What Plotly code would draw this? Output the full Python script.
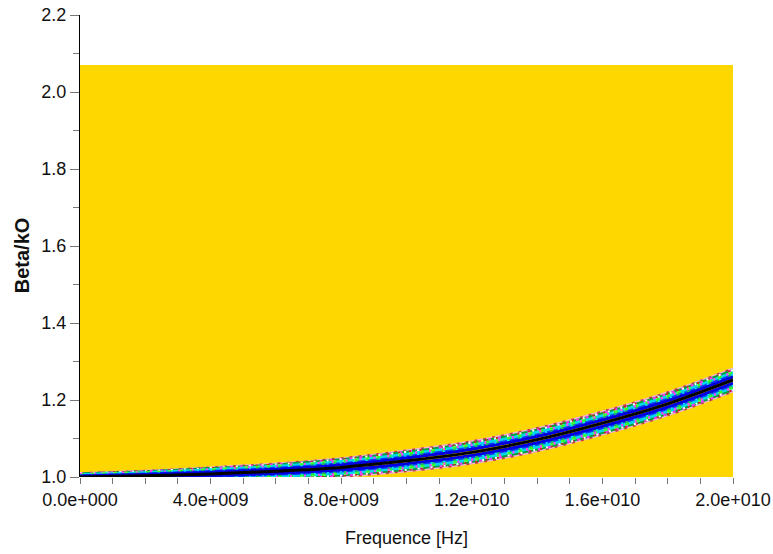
import plotly.graph_objects as go

# ---- data ----
freq_hz = [0, 2e9, 4e9, 6e9, 8e9, 1.0e10, 1.2e10, 1.4e10, 1.6e10, 1.8e10, 2.0e10]
beta_k0 = [1.0, 1.003, 1.008, 1.015, 1.025, 1.042, 1.064, 1.097, 1.14, 1.19, 1.252]
band_halfwidth = [0.010, 0.013, 0.017, 0.020, 0.024, 0.027, 0.029, 0.030, 0.030, 0.030, 0.030]

region_x = [0, 2.0e10]          # extent of the yellow computed region
region_y = [1.0, 2.07]

x_tickvals = [0, 4e9, 8e9, 1.2e10, 1.6e10, 2.0e10]
x_ticktext = ["0.0e+000", "4.0e+009", "8.0e+009", "1.2e+010", "1.6e+010", "2.0e+010"]
y_tickvals = [1.0, 1.2, 1.4, 1.6, 1.8, 2.0, 2.2]
y_ticktext = ["1.0", "1.2", "1.4", "1.6", "1.8", "2.0", "2.2"]

x_title = "Frequence [Hz]"
y_title = "Beta/kO"

fig = go.Figure()

# yellow background region
fig.add_trace(go.Scatter(
    x=[region_x[0], region_x[1], region_x[1], region_x[0], region_x[0]],
    y=[region_y[0], region_y[0], region_y[1], region_y[1], region_y[0]],
    mode="lines", fill="toself", fillcolor="#FFD700",
    line=dict(width=0, color="#FFD700"), hoverinfo="skip", showlegend=False))

# coloured band around the dispersion curve (outer layers first);
# first value = fraction of the band half-width
layers = [
    (1.00, "#f7b0d0", 2, "solid"),
    (1.00, "#c04040", 2, "3px,6px"),
    (0.82, "#00a040", 3, "solid"),
    (0.82, "#ff30ff", 3, "3px,7px"),
    (0.82, "#d02020", 3, "2px,9px"),
    (0.82, "#ffffff", 3, "2px,11px"),
    (0.64, "#00d8e8", 3, "solid"),
    (0.64, "#ffffff", 3, "3px,8px"),
    (0.64, "#30ff30", 3, "4px,7px"),
    (0.64, "#ff40ff", 3, "2px,12px"),
    (0.45, "#0040ff", 2, "solid"),
    (0.45, "#20c060", 2, "3px,8px"),
    (0.45, "#00ffff", 2, "2px,11px"),
    (0.27, "#0000e0", 3, "solid"),
]
for frac, col, w, dash in layers:
    for sgn in (1, -1):
        fig.add_trace(go.Scatter(
            x=freq_hz, y=[b + sgn * frac * h for b, h in zip(beta_k0, band_halfwidth)],
            mode="lines", line=dict(color=col, width=w, dash=dash, shape="spline"),
            hoverinfo="skip", showlegend=False))
fig.add_trace(go.Scatter(
    x=freq_hz, y=beta_k0, mode="lines",
    line=dict(color="#000000", width=3, shape="spline"),
    showlegend=False))

tick_font = dict(family="Liberation Sans, Arial", size=18, color="#111111")

fig.update_layout(
    width=773, height=554,
    margin=dict(l=80, r=40, t=15, b=77),
    paper_bgcolor="white", plot_bgcolor="white",
    showlegend=False,
    xaxis=dict(
        range=[0, 2.0e10], showgrid=False, zeroline=False, showline=False,
        automargin=False, ticklabeloverflow="allow",
        tickmode="array", tickvals=x_tickvals, ticktext=x_ticktext,
        ticks="outside", ticklen=6, tickcolor="#777777", tickwidth=1,
        minor=dict(dtick=1e9, ticks="outside", ticklen=6, tickcolor="#777777", tickwidth=1, showgrid=False),
        tickfont=tick_font,
    ),
    yaxis=dict(
        range=[1.0, 2.2], showgrid=False, zeroline=False,
        automargin=False, ticklabeloverflow="allow",
        showline=True, linecolor="#000000", linewidth=1, layer="below traces",
        tickmode="array", tickvals=y_tickvals, ticktext=y_ticktext,
        ticks="outside", ticklen=9, tickcolor="#777777", tickwidth=1,
        minor=dict(dtick=0.1, ticks="outside", ticklen=6, tickcolor="#777777", tickwidth=1, showgrid=False),
        tickfont=tick_font,
    ),
    annotations=[
        dict(text=x_title, xref="paper", yref="paper", x=0.5, y=0, yshift=-61,
             xanchor="center", yanchor="middle", showarrow=False,
             font=dict(family="Liberation Sans, Arial", size=18, color="#111111")),
        dict(text="<b>" + y_title + "</b>", xref="paper", yref="paper", x=0, y=0.48, xshift=-58,
             xanchor="center", yanchor="middle", textangle=-90, showarrow=False,
             font=dict(family="Liberation Sans, Arial", size=20, color="#111111")),
    ],
)

fig.write_html("out.html", config={"displayModeBar": False},
               post_script="document.body.style.margin='0px';document.body.style.overflow='hidden';")
